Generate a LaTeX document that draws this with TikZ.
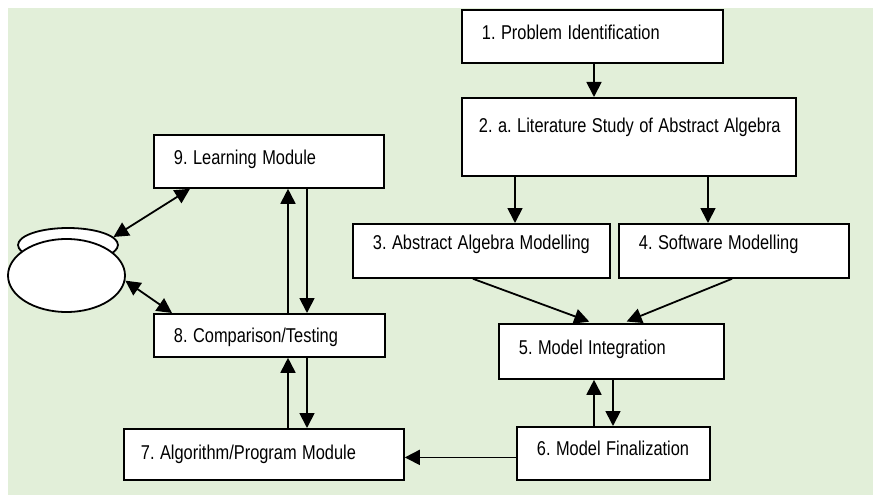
\documentclass[tikz,border=0pt]{standalone}
\usepackage{fontspec}
\usepackage{graphicx}
\setmainfont{Liberation Sans}
\usetikzlibrary{arrows.meta,shapes.geometric}
\definecolor{bgc}{HTML}{E2EFD9}
\frenchspacing
\newcommand\narrowtxt[1]{\scalebox{0.82}[1]{#1}}
\tikzset{
  x=1pt, y=-1pt,
  bx/.style 2 args={draw, line width=1.8pt, fill=white, anchor=north west,
    inner ysep=0pt, inner xsep=20pt, align=left, text height=#1, text depth=#2,
    font=\fontsize{20}{24}\selectfont\frenchspacing},
  tip/.tip={Triangle[length=15pt,width=15pt]},
  arr/.style={line width=1.8pt, -tip},
  darr/.style={line width=1.8pt, tip-tip},
  oval/.style={ellipse, draw, fill=white, line width=1.8pt, inner sep=0pt}
}
\begin{document}
\begin{tikzpicture}
\useasboundingbox (0,0) rectangle (873,495);
\fill[white] (0,0) rectangle (873,495);
\fill[bgc] (8,8) rectangle (873,495);

\node[bx={30pt}{23pt}, text width=221pt] (b1) at (461,9) {\narrowtxt{1. Problem Identification}};
\node[bx={35pt}{43pt}, inner xsep=17pt, text width=300pt] (b2) at (461,97) {\narrowtxt{2. a. Literature Study of Abstract Algebra}};
\node[bx={26pt}{28pt}, text width=217pt] (b3) at (352,223) {\narrowtxt{3. Abstract Algebra Modelling}};
\node[bx={26pt}{28pt}, text width=190pt] (b4) at (618,223) {\narrowtxt{4. Software Modelling}};
\node[bx={31pt}{24pt}, text width=185pt] (b5) at (498,323) {\narrowtxt{5. Model Integration}};
\node[bx={29pt}{24pt}, text width=153pt] (b6) at (516,426) {\narrowtxt{6. Model Finalization}};
\node[bx={31pt}{20pt}, inner xsep=17pt, text width=246pt] (b7) at (123,428) {\narrowtxt{7. Algorithm/Program Module}};
\node[bx={29pt}{14pt}, text width=191pt] (b8) at (153,313) {\narrowtxt{8. Comparison/Testing}};
\node[bx={30pt}{23pt}, text width=190pt] (b9) at (153,134) {\narrowtxt{9. Learning Module}};

\node[oval, minimum width=100pt, minimum height=34pt] (se) at (68,245) {};
\node[oval, minimum width=117pt, minimum height=73pt] (be) at (66.5,275.5) {};

% main flow
\draw[arr] ([xshift=133pt]b1.south west) -- ([xshift=133pt]b1.south west |- b2.north);
\draw[arr] ([xshift=54pt]b2.south west) -- ([xshift=54pt]b2.south west |- b3.north);
\draw[arr] ([xshift=247pt]b2.south west) -- ([xshift=247pt]b2.south west |- b4.north);
\draw[arr, shorten >=4pt] ([xshift=121pt]b3.south west) -- ([xshift=95pt]b5.north west);
\draw[arr, shorten >=4pt] ([xshift=114pt]b4.south west) -- ([xshift=125pt]b5.north west);
\draw[arr] ([xshift=78pt]b6.north west) -- ([xshift=78pt]b6.north west |- b5.south);
\draw[arr] ([xshift=97pt]b6.north west |- b5.south) -- ([xshift=97pt]b6.north west);
\draw[arr] ([yshift=-4pt]b6.west) -- ([yshift=-4pt]b6.west -| b7.east);
% left column
\draw[arr] ([xshift=135pt]b8.north west) -- ([xshift=135pt]b8.north west |- b9.south);
\draw[arr] ([xshift=154pt]b8.north west |- b9.south) -- ([xshift=154pt]b8.north west);
\draw[arr] ([xshift=135pt]b8.south west |- b7.north) -- ([xshift=135pt]b8.south west);
\draw[arr] ([xshift=154pt]b8.south west) -- ([xshift=154pt]b8.south west |- b7.north);
% ellipses
\draw[darr] ([xshift=37pt]b9.south west) -- (se.10);
\draw[darr] ([xshift=19pt]b8.north west) -- (be.-5);
\end{tikzpicture}
\end{document}
